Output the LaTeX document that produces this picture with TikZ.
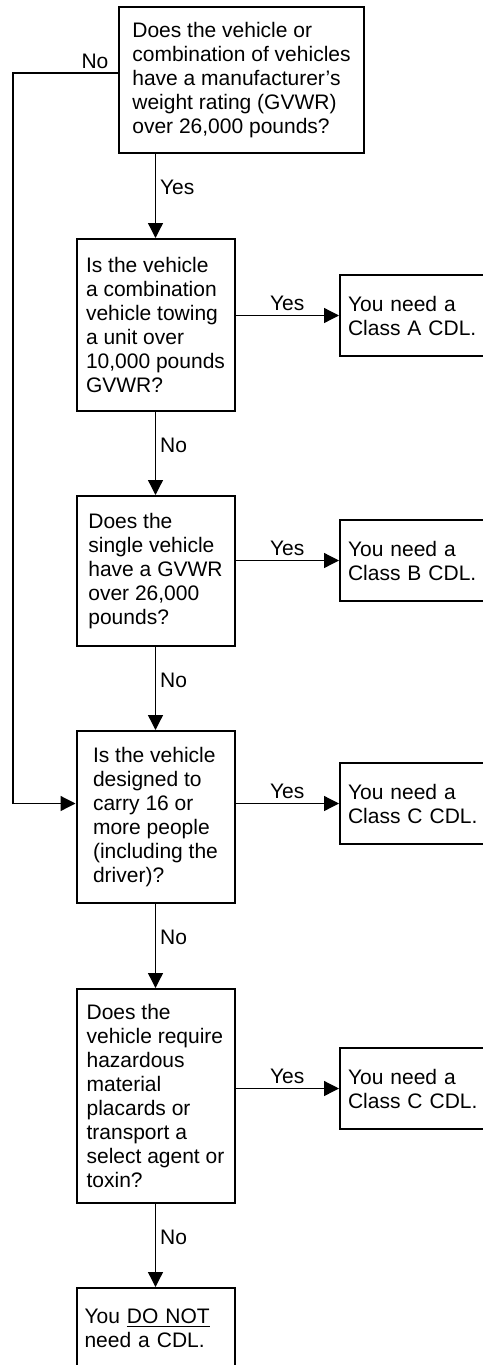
\documentclass[tikz,border=0pt]{standalone}
\usepackage{fontspec}
\setmainfont{Liberation Sans}
\usetikzlibrary{arrows.meta}

\begin{document}
\begin{tikzpicture}[x=0.5pt, y=-0.5pt,
    font=\fontsize{10.5}{12}\selectfont,
    qbox/.style={draw, rectangle, line width=1pt, align=left, minimum width=79pt, inner xsep=4pt},
    abox/.style={draw, rectangle, line width=1pt, align=left, text width=71pt, minimum height=40.5pt, inner xsep=4pt},
    conn/.style={line width=0.65pt},
    arr/.style={conn, -{Triangle[length=7.5pt,width=7.5pt]}},
    lbl/.style={inner sep=2pt}]
    \useasboundingbox (0,0) rectangle (482,1365);

    \node[qbox, minimum width=122.5pt, minimum height=73pt] (qweight) at (241.5,80)
        {Does the vehicle or\\combination of vehicles\\have a manufacturer's\\weight rating (GVWR)\\over 26,000 pounds?};
    \node[qbox, minimum height=86pt] (qtow) at (155.5,325)
        {Is the vehicle\\a combination\\vehicle towing\\a unit over\\10,000 pounds\\GVWR?};
    \node[qbox, minimum height=75pt] (qsingle) at (155.5,571)
        {Does the\\single vehicle\\have a GVWR\\over 26,000\\pounds?};
    \node[qbox, minimum height=86pt] (qpeople) at (155.5,817)
        {Is the vehicle\\designed to\\carry 16 or\\more people\\(including the\\driver)?};
    \node[qbox, minimum height=107pt] (qhazmat) at (155.5,1096)
        {Does the\\vehicle require\\hazardous\\material\\placards or\\transport a\\select agent or\\toxin?};
    \node[abox] (nocdl) at (155.5,1328.5) {You \underline{DO NOT}\\need a CDL.};

    \node[abox] (cdla) at (419,315.5) {You need a\\Class A CDL.};
    \node[abox] (cdlb) at (419,560.5) {You need a\\Class B CDL.};
    \node[abox] (cdlc) at (419,803.5) {You need a\\Class C CDL.};
    \node[abox] (cdlhaz) at (419,1088.5) {You need a\\Class C CDL.};

    \draw[arr] (qweight.south -| qtow.north) -- node[lbl, right, pos=0.4] {Yes} (qtow.north);
    \draw[arr] (qtow.south) -- node[lbl, right, pos=0.4] {No} (qsingle.north);
    \draw[arr] (qsingle.south) -- node[lbl, right, pos=0.4] {No} (qpeople.north);
    \draw[arr] (qpeople.south) -- node[lbl, right, pos=0.4] {No} (qhazmat.north);
    \draw[arr] (qhazmat.south) -- node[lbl, right, pos=0.4] {No} (nocdl.north);

    \draw[arr] (cdla.west -| qtow.east) -- node[lbl, above] {Yes} (cdla.west);
    \draw[arr] (cdlb.west -| qsingle.east) -- node[lbl, above] {Yes} (cdlb.west);
    \draw[arr] (cdlc.west -| qpeople.east) -- node[lbl, above] {Yes} (cdlc.west);
    \draw[arr] (cdlhaz.west -| qhazmat.east) -- node[lbl, above] {Yes} (cdlhaz.west);

    \draw[arr] ([yshift=3.5pt]qweight.west) node[lbl, above left, inner xsep=4.5pt] {No}
        -- ++(-105,0) |- (cdlc.west -| qpeople.west);
\end{tikzpicture}
\end{document}
